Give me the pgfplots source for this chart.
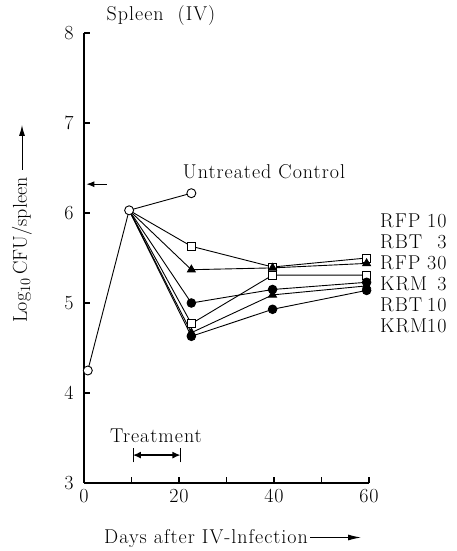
\documentclass[border=0pt]{standalone}
\usepackage{fontspec}
\setmainfont{Latin Modern Roman}[LetterSpace=5]
\newfontfamily\plainlm{Latin Modern Roman}
\usepackage{pgfplots}
\pgfplotsset{compat=1.18}
\usetikzlibrary{arrows.meta}

\begin{document}
\begin{tikzpicture}[font=\fontsize{20}{21}\selectfont]
\path[use as bounding box] (0pt,0pt) rectangle (456pt,551pt);
\begin{axis}[
  at={(84pt,68pt)}, anchor=south west,
  scale only axis, width=285pt, height=450pt,
  xmin=0, xmax=60, ymin=3, ymax=8,
  axis x line*=bottom, axis y line*=left,
  axis line style={line width=1.8pt, -},
  xtick={0,10,...,60}, xticklabels={0,,20,,40,,60},
  ytick={3,4,...,8},
  tick align=inside,
  major tick length=6pt,
  tick style={line width=1.4pt, black},
  tick label style={font=\fontsize{20}{21}\selectfont},
  /pgf/number format/assume math mode=true,
  yticklabel style={xshift=-7pt},
  xticklabel style={yshift=-3pt},
  clip=false,
]
% open squares
\addplot[black, line width=0.9pt, mark=square*, mark size=4pt, mark options={fill=white, line width=0.9pt}, mark indices={2,3,4}]
  coordinates {(9.5,6.03) (22.6,5.63) (39.7,5.40) (59.5,5.50)}; % RFP 10
\addplot[black, line width=0.9pt, mark=square*, mark size=4pt, mark options={fill=white, line width=0.9pt}, mark indices={2,3,4}]
  coordinates {(9.5,6.03) (22.6,4.77) (39.7,5.31) (59.5,5.31)}; % RFP 30
% filled triangles
\addplot[black, line width=0.9pt, mark=triangle*, mark size=4.5pt, mark options={fill=black}, mark indices={2,3,4}]
  coordinates {(9.5,6.03) (22.6,5.37) (39.7,5.39) (59.5,5.44)}; % RBT 3
\addplot[black, line width=0.9pt, mark=triangle*, mark size=4.5pt, mark options={fill=black}, mark indices={2,3,4}]
  coordinates {(9.5,6.03) (22.6,4.67) (39.7,5.09) (59.5,5.19)}; % RBT 10
% filled circles
\addplot[black, line width=0.9pt, mark=*, mark size=4.3pt, mark options={fill=black}, mark indices={2,3,4}]
  coordinates {(9.5,6.03) (22.6,5.00) (39.7,5.15) (59.5,5.23)}; % KRM 3
\addplot[black, line width=0.9pt, mark=*, mark size=4.3pt, mark options={fill=black}, mark indices={2,3,4}]
  coordinates {(9.5,6.03) (22.6,4.63) (39.7,4.93) (59.5,5.14)}; % KRM 10
% untreated control
\addplot[black, line width=0.9pt, mark=*, mark size=4.5pt, mark options={fill=white, line width=0.9pt}]
  coordinates {(0.8,4.25) (9.5,6.03) (22.6,6.22)};
% arrows
\draw[line width=1pt, -{Latex[length=8pt,width=6pt]}] (axis cs:4.8,6.32) -- (axis cs:0.5,6.32);
\draw[line width=1.3pt, {Latex[length=8pt,width=7pt]}-{Latex[length=8pt,width=7pt]}] (axis cs:10.3,3.31) -- (axis cs:20.3,3.31);
\draw[line width=0.8pt] (axis cs:10.3,3.23) -- (axis cs:10.3,3.39);
\draw[line width=0.8pt] (axis cs:20.3,3.23) -- (axis cs:20.3,3.39);
\end{axis}
% texts
\node at (161pt,535pt) {Spleen\ \ (IV)};
\node at (264pt,379pt) {Untreated\ Control};
\node at (156pt,115pt) {Treatment};
\node[anchor=west, inner sep=0pt] at (380pt,275.5pt) {%
  \begin{tabular}{@{}l@{}r@{}}
  RFP & 10\\
  RBT & 3\\
  RFP & 30\\
  KRM & 3\\
  RBT & 10\\
  KRM & 10
  \end{tabular}};
\node[rotate=90, font=\plainlm\fontsize{20}{21}\selectfont] at (22pt,301pt) {Log$_{10}$\,CFU/spleen};
\draw[line width=1pt, -{Latex[length=11pt,width=6pt]}] (22pt,381pt) -- (22pt,426pt);
\node[anchor=base west, inner sep=0pt] at (104pt,8pt) {Days\ after\ IV-lnfection};
\draw[line width=1pt, -{Latex[length=13pt,width=6pt]}] (310pt,13.5pt) -- (361pt,13.5pt);
\end{tikzpicture}
\end{document}
